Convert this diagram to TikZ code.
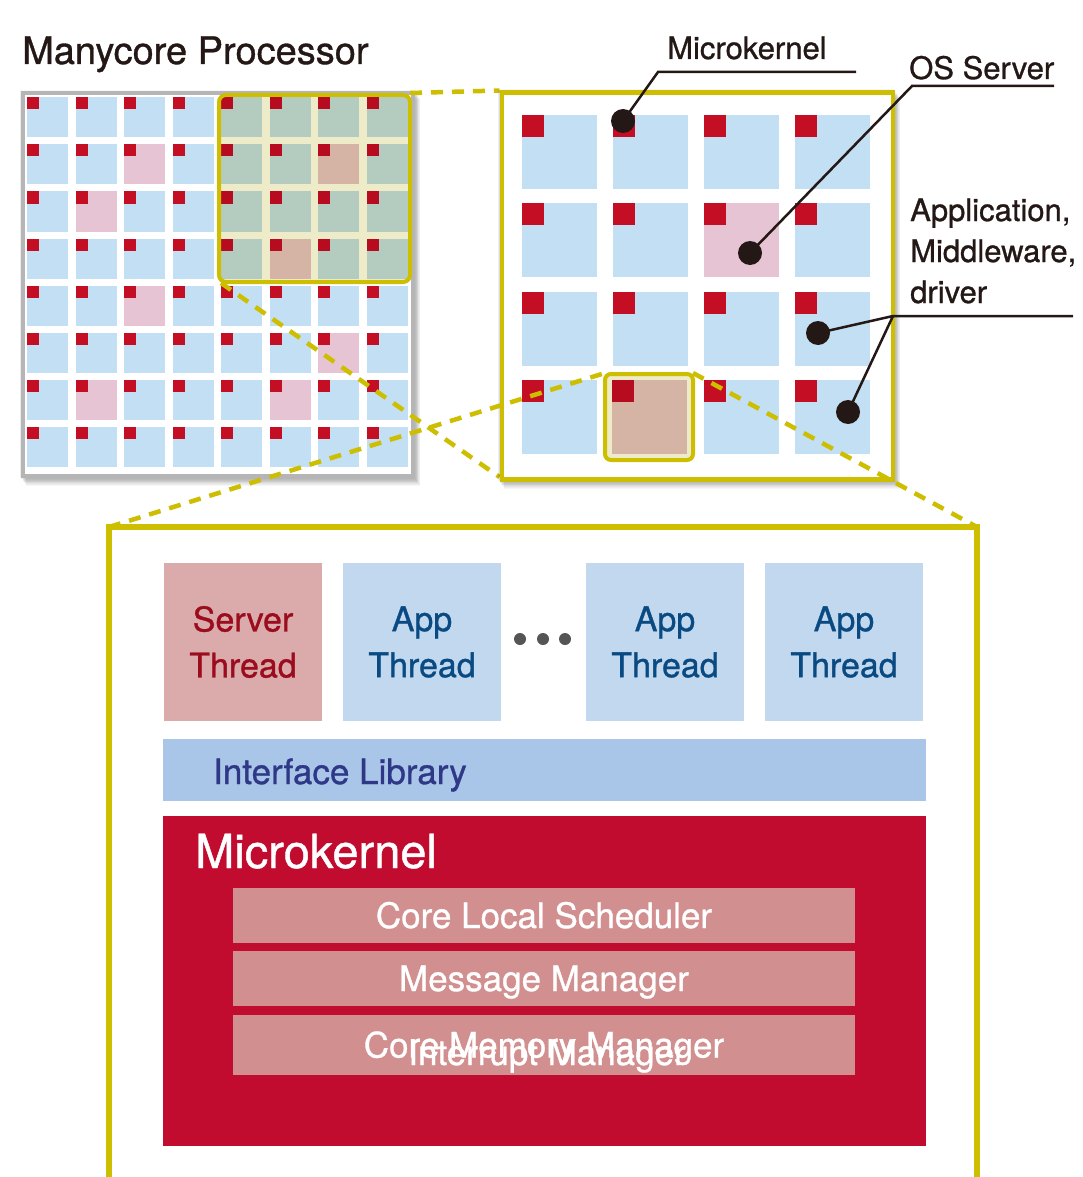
\documentclass[tikz,border=0pt]{standalone}
\usepackage{fontspec}
\setmainfont{TeX Gyre Heros}[FakeBold=0.9]
\definecolor{yel}{RGB}{205,190,0}
\definecolor{cellblue}{RGB}{195,223,243}
\definecolor{cellpink}{RGB}{231,196,211}
\definecolor{corered}{RGB}{196,14,36}
\definecolor{hlbg}{RGB}{238,235,200}
\definecolor{hlblue}{RGB}{179,204,191}
\definecolor{hlpink}{RGB}{213,179,165}
\definecolor{hlred}{RGB}{183,12,32}
\definecolor{srvfill}{RGB}{219,171,171}
\definecolor{srvtext}{RGB}{155,12,30}
\definecolor{appfill}{RGB}{194,216,238}
\definecolor{apptext}{RGB}{10,74,130}
\definecolor{iffill}{RGB}{169,197,232}
\definecolor{iftext}{RGB}{46,56,135}
\definecolor{mkred}{RGB}{193,12,47}
\definecolor{subfill}{RGB}{210,143,143}
\definecolor{dotgray}{RGB}{85,85,85}
\definecolor{ink}{RGB}{35,24,21}
\definecolor{framegrey}{RGB}{181,181,181}
\newcommand\softshadow[4]{\foreach \k in {1,...,12}{\fill[black,opacity=0.035] ({#1+0.6*\k},{#2+0.8*\k}) rectangle ({#3+0.6*\k},{#4+0.8*\k});}}
\begin{document}
\begin{tikzpicture}[x=1pt,y=-1pt,
  zoomline/.style={yel,line width=4.5,dash pattern=on 12 off 9},
  leader/.style={ink,line width=2.5},
  blackdot/.style={circle,fill=ink,inner sep=0,minimum size=24},
  lbl/.style={anchor=base west,inner sep=0,text=ink,font=\fontsize{31}{41}\selectfont,align=left},
  thread/.style={minimum width=158,minimum height=158,inner sep=0,align=center,font=\fontsize{34}{46}\selectfont},
  subbox/.style={fill=subfill,minimum width=622,inner sep=0,text=white,font=\fontsize{35}{42}\selectfont,text height=25,text depth=0},
  gdot/.style={circle,fill=dotgray,inner sep=0,minimum size=12}]
\useasboundingbox (0,0) rectangle (1083,1177);
\fill[white] (0,0) rectangle (1083,1177);

% title
\node[anchor=base west,inner sep=0,text=ink,font=\fontsize{38}{46}\selectfont] (title) at (22,64) {Manycore Processor};

% left grid
\softshadow{19}{89}{413}{476}
\node[draw=framegrey,line width=4,fill=white,anchor=north west,minimum width=390,minimum height=383,inner sep=0] (lgrid) at (21,91) {};
\foreach \i in {0,...,7}{\foreach \j in {0,...,7}{
  \fill[cellblue] ({27+48.5*\i},{97.5+47*\j}) rectangle +(41,40);
  \fill[corered] ({27+48.5*\i},{97.5+47*\j}) rectangle +(12,12);}}
\foreach \i/\j in {2/1,1/2,2/4,6/5,1/6,5/6}{
  \fill[cellpink] ({27+48.5*\i},{97.5+47*\j}) rectangle +(41,40);
  \fill[corered] ({27+48.5*\i},{97.5+47*\j}) rectangle +(12,12);}
% highlighted region
\fill[hlbg,rounded corners=7] (219,95) rectangle (410,282);
\foreach \i in {4,...,7}{\foreach \j in {0,...,3}{
  \fill[hlblue] ({27+48.5*\i},{97.5+47*\j}) rectangle +(41,40);}}
\foreach \i/\j in {6/1,5/3}{
  \fill[hlpink] ({27+48.5*\i},{97.5+47*\j}) rectangle +(41,40);}
\foreach \i in {4,...,7}{\foreach \j in {0,...,3}{
  \fill[hlred] ({27+48.5*\i},{97.5+47*\j}) rectangle +(12,12);}}
\draw[yel,line width=4,rounded corners=7] (219,95) rectangle (410,282);
\coordinate (hlTR) at (410,93);
\coordinate (hlBL) at (221,283);

% right box
\coordinate (rbTL) at (499.5,90.5);
\coordinate (rbBL) at (499.5,477);
\draw[zoomline] (hlTR) -- (rbTL);
\draw[zoomline] (hlBL) -- (rbBL);
\softshadow{497}{88}{893}{479}
\node[draw=yel,line width=4.5,fill=white,anchor=north west,minimum width=391,minimum height=386.5,inner sep=0] (rbox) at (rbTL) {};
\foreach \i in {0,...,3}{\foreach \j in {0,...,3}{
  \fill[cellblue] ({522+91*\i},{115+88.3*\j}) rectangle +(75,74);
  \fill[corered] ({522+91*\i},{115+88.3*\j}) rectangle +(22,22);}}
\fill[cellpink] ({522+91*2},{115+88.3}) rectangle +(75,74);
\fill[corered] ({522+91*2},{115+88.3}) rectangle +(22,22);
% small highlight
\fill[hlbg,rounded corners=6] (605,374) rectangle (693,460);
\fill[hlpink] (612,379.9) rectangle +(75,74);
\fill[hlred] (612,379.9) rectangle +(22,22);
\draw[yel,line width=4,rounded corners=6] (605,374) rectangle (693,460);
\coordinate (shTL) at (605,373);
\coordinate (shTR) at (693,373);

% bottom box
\coordinate (bbTL) at (109,527);
\coordinate (bbTR) at (977,527);
\draw[zoomline] (bbTL) -- (shTL);
\draw[zoomline] (shTR) -- (bbTR);
\draw[yel,line width=6] (109,1190) -- (bbTL) -- (bbTR) -- (977,1190);

% leaders and labels
\node[lbl] (lmk) at (667,59) {Microkernel};
\node[blackdot] (dmk) at (623,121) {};
\coordinate (kmk) at (658,72);
\draw[leader] (dmk.center) -- (kmk) -- (856,72);

\node[lbl] (los) at (909,79) {OS Server};
\node[blackdot] (dos) at (750,253) {};
\coordinate (kos) at (912,86);
\draw[leader] (dos.center) -- (kos) -- (1054,86);

\node[lbl] (lapp) at (910,303) {Application,\\Middleware,\\driver};
\node[blackdot] (dap1) at (818,333) {};
\node[blackdot] (dap2) at (848,412) {};
\coordinate (kapp) at (893,316);
\draw[leader] (dap1.center) -- (kapp) -- (1073,316);
\draw[leader] (dap2.center) -- (kapp);

% threads
\node[thread,fill=srvfill,text=srvtext] (srv) at (243,642) {Server\\Thread};
\node[thread,fill=appfill,text=apptext] (app1) at (422,642) {App\\Thread};
\node[thread,fill=appfill,text=apptext] (app2) at (665,642) {App\\Thread};
\node[thread,fill=appfill,text=apptext] (app3) at (844,642) {App\\Thread};
\node[gdot] (g1) at (520,639) {};
\node[gdot] (g2) at (543,639) {};
\node[gdot] (g3) at (565,639) {};

% interface library
\node[fill=iffill,minimum width=763,minimum height=62,inner sep=0] (iflib) at (544.5,770) {};
\node[anchor=base west,inner sep=0,text=iftext,font=\fontsize{35}{42}\selectfont] (iftxt) at (213,784) {Interface Library};

% microkernel
\node[fill=mkred,minimum width=763,minimum height=330,inner sep=0] (mk) at (544.5,981) {};
\node[anchor=base west,inner sep=0,text=white,font=\fontsize{47}{56}\selectfont] (mktxt) at (195,868) {Microkernel};
\node[subbox,minimum height=55] (cls) at (544,915.5) {Core Local Scheduler};
\node[subbox,minimum height=55] (msg) at (544,978.5) {Message Manager};
\node[subbox,minimum height=60] (cmm) at (544,1045) {Core Memory Manager};
\node[anchor=base,inner sep=0,text=white,font=\fontsize{35}{42}\selectfont] (irq) at (547,1065) {Interrupt Manager};
\end{tikzpicture}
\end{document}
